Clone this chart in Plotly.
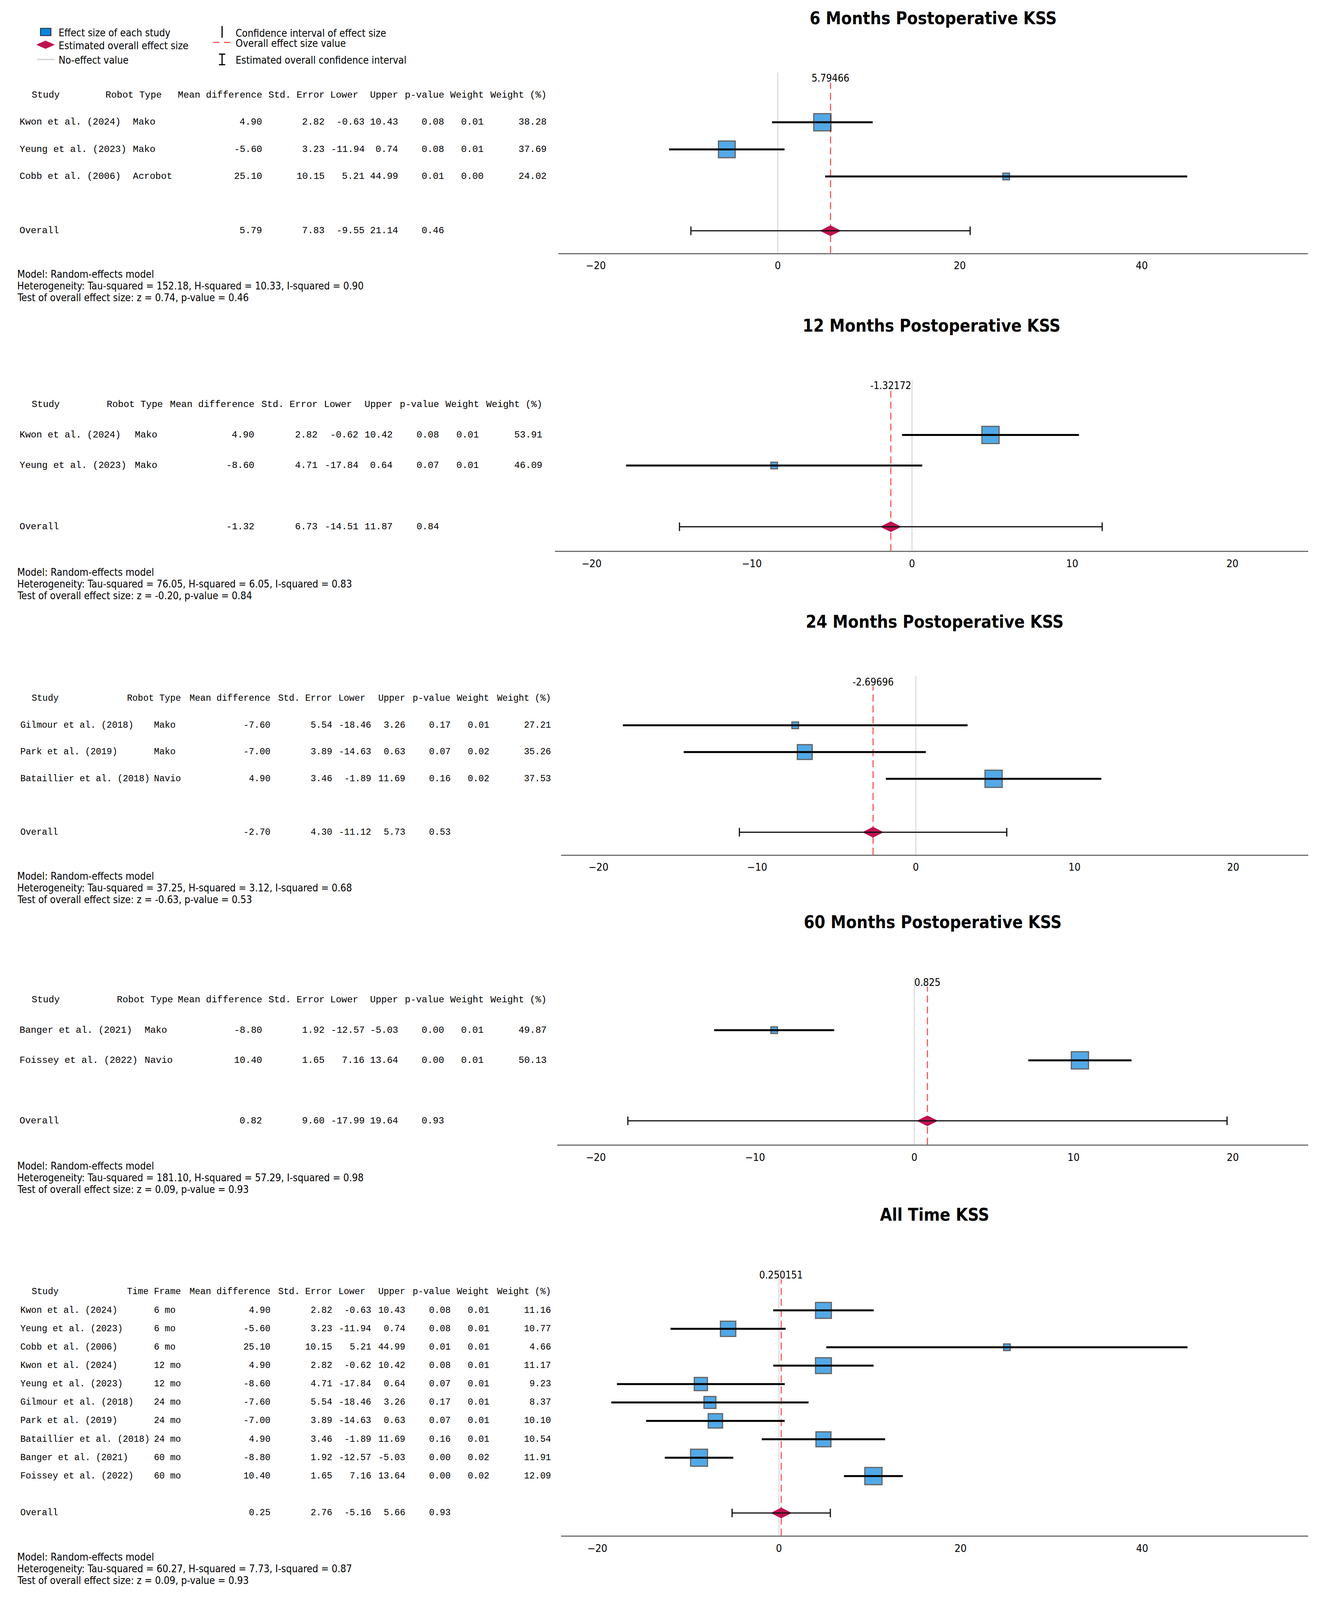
import plotly.graph_objects as go

# reference canvas the layout was measured on (px)
W, H = 3373, 5435

## data: 6 months
studies_6 = ["Kwon et al. (2024)", "Yeung et al. (2023)", "Cobb et al. (2006)"]
type_6 = ["Mako", "Mako", "Acrobot"]
md_6 = [4.90, -5.60, 25.10]
se_6 = [2.82, 3.23, 10.15]
lower_6 = [-0.63, -11.94, 5.21]
upper_6 = [10.43, 0.74, 44.99]
pval_6 = [0.08, 0.08, 0.01]
weight_6 = [0.01, 0.01, 0.00]
weight_pct_6 = [38.28, 37.69, 24.02]
overall_6 = [5.79, 7.83, -9.55, 21.14, 0.46]   # md, se, lower, upper, p
overall_label_6 = "5.79466"
stats_6 = [152.18, 10.33, 0.90, 0.74, 0.46]    # tau2, H2, I2, z, p

## data: 12 months
studies_12 = ["Kwon et al. (2024)", "Yeung et al. (2023)"]
type_12 = ["Mako", "Mako"]
md_12 = [4.90, -8.60]
se_12 = [2.82, 4.71]
lower_12 = [-0.62, -17.84]
upper_12 = [10.42, 0.64]
pval_12 = [0.08, 0.07]
weight_12 = [0.01, 0.01]
weight_pct_12 = [53.91, 46.09]
overall_12 = [-1.32, 6.73, -14.51, 11.87, 0.84]
overall_label_12 = "-1.32172"
stats_12 = [76.05, 6.05, 0.83, -0.20, 0.84]

## data: 24 months
studies_24 = ["Gilmour et al. (2018)", "Park et al. (2019)", "Bataillier et al. (2018)"]
type_24 = ["Mako", "Mako", "Navio"]
md_24 = [-7.60, -7.00, 4.90]
se_24 = [5.54, 3.89, 3.46]
lower_24 = [-18.46, -14.63, -1.89]
upper_24 = [3.26, 0.63, 11.69]
pval_24 = [0.17, 0.07, 0.16]
weight_24 = [0.01, 0.02, 0.02]
weight_pct_24 = [27.21, 35.26, 37.53]
overall_24 = [-2.70, 4.30, -11.12, 5.73, 0.53]
overall_label_24 = "-2.69696"
stats_24 = [37.25, 3.12, 0.68, -0.63, 0.53]

## data: 60 months
studies_60 = ["Banger et al. (2021)", "Foissey et al. (2022)"]
type_60 = ["Mako", "Navio"]
md_60 = [-8.80, 10.40]
se_60 = [1.92, 1.65]
lower_60 = [-12.57, 7.16]
upper_60 = [-5.03, 13.64]
pval_60 = [0.00, 0.00]
weight_60 = [0.01, 0.01]
weight_pct_60 = [49.87, 50.13]
overall_60 = [0.82, 9.60, -17.99, 19.64, 0.93]
overall_label_60 = "0.825"
stats_60 = [181.10, 57.29, 0.98, 0.09, 0.93]

## data: all time
studies_all = ["Kwon et al. (2024)", "Yeung et al. (2023)", "Cobb et al. (2006)",
               "Kwon et al. (2024)", "Yeung et al. (2023)", "Gilmour et al. (2018)",
               "Park et al. (2019)", "Bataillier et al. (2018)", "Banger et al. (2021)",
               "Foissey et al. (2022)"]
type_all = ["6 mo", "6 mo", "6 mo", "12 mo", "12 mo", "24 mo", "24 mo", "24 mo", "60 mo", "60 mo"]
md_all = [4.90, -5.60, 25.10, 4.90, -8.60, -7.60, -7.00, 4.90, -8.80, 10.40]
se_all = [2.82, 3.23, 10.15, 2.82, 4.71, 5.54, 3.89, 3.46, 1.92, 1.65]
lower_all = [-0.63, -11.94, 5.21, -0.62, -17.84, -18.46, -14.63, -1.89, -12.57, 7.16]
upper_all = [10.43, 0.74, 44.99, 10.42, 0.64, 3.26, 0.63, 11.69, -5.03, 13.64]
pval_all = [0.08, 0.08, 0.01, 0.08, 0.07, 0.17, 0.07, 0.16, 0.00, 0.00]
weight_all = [0.01, 0.01, 0.01, 0.01, 0.01, 0.01, 0.01, 0.01, 0.02, 0.02]
weight_pct_all = [11.16, 10.77, 4.66, 11.17, 9.23, 8.37, 10.10, 10.54, 11.91, 12.09]
overall_all = [0.25, 2.76, -5.16, 5.66, 0.93]
overall_label_all = "0.250151"
stats_all = [60.27, 7.73, 0.87, 0.09, 0.93]

## styles
BLUE = "#0a86de"
CRIMSON = "#bf1250"
RED = "#ff5a5a"
NOEFF = "#cfcfcf"
NARROW = "Liberation Sans Narrow, Arial Narrow, DejaVu Sans Condensed, sans-serif"
MONO = "Liberation Mono, Courier New, monospace"

def fx(x):
    return x / W

def fy(y):
    return 1 - y / H

panels = [
    dict(title="6 Months Postoperative KSS", studies=studies_6, types=type_6, md=md_6, se=se_6,
         lo=lower_6, hi=upper_6, p=pval_6, w=weight_6, wp=weight_pct_6, ov=overall_6,
         ovlab=overall_label_6, stats=stats_6, type_head="Robot Type",
         box=(1428, 3355, 237, 852), xr=[-24.10, 58.25], ticks=[-20, 0, 20, 40], pad=(1.83, 0.82),
         name_x=40, type_x=332, type_head_x=261, rights=[668, 829, 931, 1018, 1136, 1238, 1400], tsize=24),
    dict(title="12 Months Postoperative KSS", studies=studies_12, types=type_12, md=md_12, se=se_12,
         lo=lower_12, hi=upper_12, p=pval_12, w=weight_12, wp=weight_pct_12, ov=overall_12,
         ovlab=overall_label_12, stats=stats_12, type_head="Robot Type",
         box=(1419, 3356, 1285, 1868), xr=[-22.28, 24.73], ticks=[-20, -10, 0, 10, 20], pad=(1.80, 0.79),
         name_x=40, type_x=337, type_head_x=264, rights=[648, 811, 915, 1004, 1123, 1226, 1389], tsize=24),
    dict(title="24 Months Postoperative KSS", studies=studies_24, types=type_24, md=md_24, se=se_24,
         lo=lower_24, hi=upper_24, p=pval_24, w=weight_24, wp=weight_pct_24, ov=overall_24,
         ovlab=overall_label_24, stats=stats_24, type_head="Robot Type",
         box=(1435, 3356, 2296, 2904), xr=[-22.35, 24.73], ticks=[-20, -10, 0, 10, 20], pad=(1.83, 0.84),
         name_x=42, type_x=386, type_head_x=317, rights=[689, 848, 949, 1036, 1152, 1252, 1411], tsize=23),
    dict(title="60 Months Postoperative KSS", studies=studies_60, types=type_60, md=md_60, se=se_60,
         lo=lower_60, hi=upper_60, p=pval_60, w=weight_60, wp=weight_pct_60, ov=overall_60,
         ovlab=overall_label_60, stats=stats_60, type_head="Robot Type",
         box=(1425, 3356, 3320, 3893), xr=[-22.42, 24.74], ticks=[-20, -10, 0, 10, 20], pad=(1.77, 0.79),
         name_x=40, type_x=362, type_head_x=290, rights=[668, 829, 931, 1018, 1136, 1238, 1400], tsize=24),
    dict(title="All Time KSS", studies=studies_all, types=type_all, md=md_all, se=se_all,
         lo=lower_all, hi=upper_all, p=pval_all, w=weight_all, wp=weight_pct_all, ov=overall_all,
         ovlab=overall_label_all, stats=stats_all, type_head="Time Frame",
         box=(1435, 3356, 4318, 5226), xr=[-23.98, 58.29], ticks=[-20, 0, 20, 40], pad=(2.23, 1.23),
         name_x=42, type_x=386, type_head_x=317, rights=[689, 848, 949, 1036, 1152, 1252, 1411], tsize=23),
]

heads = ["Mean difference", "Std. Error", "Lower", "Upper", "p-value", "Weight", "Weight (%)"]

fig = go.Figure()
shapes = []
annos = []
layout = {}

for k, pn in enumerate(panels, start=1):
    suf = "" if k == 1 else str(k)
    xa, ya = "x" + suf, "y" + suf
    n = len(pn["studies"])
    rows = list(range(1, n + 1))
    ov_row = n + 2
    l, r, t, b = pn["box"]
    toppad, botpad = pn["pad"]

    layout["xaxis" + suf] = dict(domain=[fx(l), fx(r)], range=pn["xr"], anchor=ya,
                                 tickvals=pn["ticks"], showgrid=False, zeroline=False,
                                 showline=True, linecolor="#6e6e6e", linewidth=3,
                                 ticks="outside", ticklen=6, tickcolor="white",
                                 tickfont=dict(family=NARROW, size=27, color="black"))
    layout["yaxis" + suf] = dict(domain=[fy(b), fy(t)], range=[ov_row + botpad, 1 - toppad],
                                 anchor=xa, visible=False)

    # square size scaled by weight (%)
    wmin, wmax = min(pn["wp"]), max(pn["wp"])
    sizes = [17 + (v - wmin) / (wmax - wmin) * 27 for v in pn["wp"]]

    fig.add_trace(go.Scatter(x=pn["md"], y=rows, mode="markers", xaxis=xa, yaxis=ya,
                             marker=dict(symbol="square", size=sizes, color=BLUE,
                                         line=dict(color="#222222", width=3)),
                             showlegend=False, hoverinfo="skip"))
    fig.add_trace(go.Scatter(x=[pn["ov"][0]], y=[ov_row], mode="markers", xaxis=xa, yaxis=ya,
                             marker=dict(symbol="diamond-wide", size=39, color=CRIMSON,
                                         line=dict(width=0)),
                             showlegend=False, hoverinfo="skip"))
    # confidence intervals, drawn on top of the markers
    fig.add_trace(go.Scatter(x=pn["md"], y=rows, mode="markers", xaxis=xa, yaxis=ya,
                             marker=dict(size=1, color="rgba(0,0,0,0)"),
                             error_x=dict(type="data", symmetric=False,
                                          array=[h - m for h, m in zip(pn["hi"], pn["md"])],
                                          arrayminus=[m - lo for m, lo in zip(pn["md"], pn["lo"])],
                                          color="black", thickness=5, width=0),
                             showlegend=False, hoverinfo="skip"))
    fig.add_trace(go.Scatter(x=[pn["ov"][0]], y=[ov_row], mode="markers", xaxis=xa, yaxis=ya,
                             marker=dict(size=1, color="rgba(0,0,0,0)"),
                             error_x=dict(type="data", symmetric=False,
                                          array=[pn["ov"][3] - pn["ov"][0]],
                                          arrayminus=[pn["ov"][0] - pn["ov"][2]],
                                          color="#111111", thickness=3, width=11),
                             showlegend=False, hoverinfo="skip"))

    # no-effect line and overall effect line
    shapes.append(dict(type="line", xref=xa, yref=ya + " domain", x0=0, x1=0, y0=0, y1=1,
                       line=dict(color=NOEFF, width=2), layer="below"))
    ov_exact = float(pn["ovlab"])
    shapes.append(dict(type="line", xref=xa, yref=ya + " domain", x0=ov_exact, x1=ov_exact,
                       y0=0, y1=1 - 34 / (b - t),
                       line=dict(color=RED, width=3, dash="18px,10px"), layer="below"))
    annos.append(dict(xref=xa, yref="paper", x=ov_exact, y=fy(t + 19),
                      text=pn["ovlab"], showarrow=False, yanchor="middle",
                      font=dict(family=NARROW, size=26, color="black")))

    # title
    annos.append(dict(xref=xa + " domain", yref="paper", x=0.5, y=fy(t - 186),
                      text="<b>" + pn["title"] + "</b>", showarrow=False, yanchor="middle",
                      font=dict(family=NARROW, size=44, color="black")))

    # table
    def cell(text, x, y, anchor, size=pn["tsize"]):
        annos.append(dict(xref="paper", yref=ya, x=fx(x), y=y, text=text, showarrow=False,
                          xanchor=anchor, yanchor="middle",
                          font=dict(family=MONO, size=size, color="black")))

    rights = pn["rights"]
    cell("Study", 71, 0, "left")
    cell(pn["type_head"], pn["type_head_x"], 0, "left")
    for j, hd in enumerate(heads):
        cell(hd, rights[j] - (16 if hd == "Lower" else 0), 0, "right")
    for i in range(n):
        y = rows[i]
        cell(pn["studies"][i], pn["name_x"], y, "left")
        cell(pn["types"][i], pn["type_x"], y, "left")
        vals = [pn["md"][i], pn["se"][i], pn["lo"][i], pn["hi"][i], pn["p"][i], pn["w"][i], pn["wp"][i]]
        for j, v in enumerate(vals):
            cell(f"{v:.2f}", rights[j], y, "right")
    cell("Overall", pn["name_x"], ov_row, "left")
    for j, v in enumerate(pn["ov"]):
        cell(f"{v:.2f}", rights[j], ov_row, "right")

    # footer
    tau2, h2, i2, z, pz = pn["stats"]
    foot = ["Model: Random-effects model",
            f"Heterogeneity: Tau-squared = {tau2:.2f}, H-squared = {h2:.2f}, I-squared = {i2:.2f}",
            f"Test of overall effect size: z = {z:.2f}, p-value = {pz:.2f}"]
    for j, line in enumerate(foot):
        annos.append(dict(xref="paper", yref="paper", x=fx(34), y=fy(b + 73 + 40 * j),
                          text=line, showarrow=False, xanchor="left", yanchor="middle",
                          font=dict(family=NARROW, size=26, color="black")))

## legend (top left)
shapes += [
    dict(type="rect", xref="paper", yref="paper", x0=fx(96), x1=fx(123), y0=fy(111), y1=fy(86),
         fillcolor=BLUE, line=dict(color="#222222", width=2)),
    dict(type="path", xref="paper", yref="paper",
         path=f"M {fx(85)},{fy(142)} L {fx(109)},{fy(128)} L {fx(133)},{fy(142)} L {fx(109)},{fy(156)} Z",
         fillcolor=CRIMSON, line=dict(width=0)),
    dict(type="line", xref="paper", yref="paper", x0=fx(87), x1=fx(132), y0=fy(192), y1=fy(192),
         line=dict(color=NOEFF, width=3)),
    dict(type="line", xref="paper", yref="paper", x0=fx(563), x1=fx(563), y0=fy(118), y1=fy(78),
         line=dict(color="black", width=3)),
    dict(type="line", xref="paper", yref="paper", x0=fx(540), x1=fx(587), y0=fy(134), y1=fy(134),
         line=dict(color=RED, width=3, dash="16px,12px")),
    dict(type="line", xref="paper", yref="paper", x0=fx(563), x1=fx(563), y0=fy(210), y1=fy(174),
         line=dict(color="black", width=3)),
    dict(type="line", xref="paper", yref="paper", x0=fx(555), x1=fx(571), y0=fy(174), y1=fy(174),
         line=dict(color="black", width=3)),
    dict(type="line", xref="paper", yref="paper", x0=fx(555), x1=fx(571), y0=fy(210), y1=fy(210),
         line=dict(color="black", width=3)),
]
legend_text = [("Effect size of each study", 141, 101),
               ("Estimated overall effect size", 141, 145),
               ("No-effect value", 141, 195),
               ("Confidence interval of effect size", 596, 102),
               ("Overall effect size value", 596, 137),
               ("Estimated overall confidence interval", 596, 195)]
for txt, x, y in legend_text:
    annos.append(dict(xref="paper", yref="paper", x=fx(x), y=fy(y), text=txt, showarrow=False,
                      xanchor="left", yanchor="middle",
                      font=dict(family=NARROW, size=26, color="black")))

# size follows the browser window, so every panel stays on the page
fig.update_layout(autosize=True, margin=dict(l=0, r=0, t=0, b=0),
                  paper_bgcolor="white", plot_bgcolor="white",
                  showlegend=False, shapes=shapes, annotations=annos, **layout)

fig.write_html("out.html", default_width="calc(100vw - 16px)", default_height="calc(100vh - 16px)")
